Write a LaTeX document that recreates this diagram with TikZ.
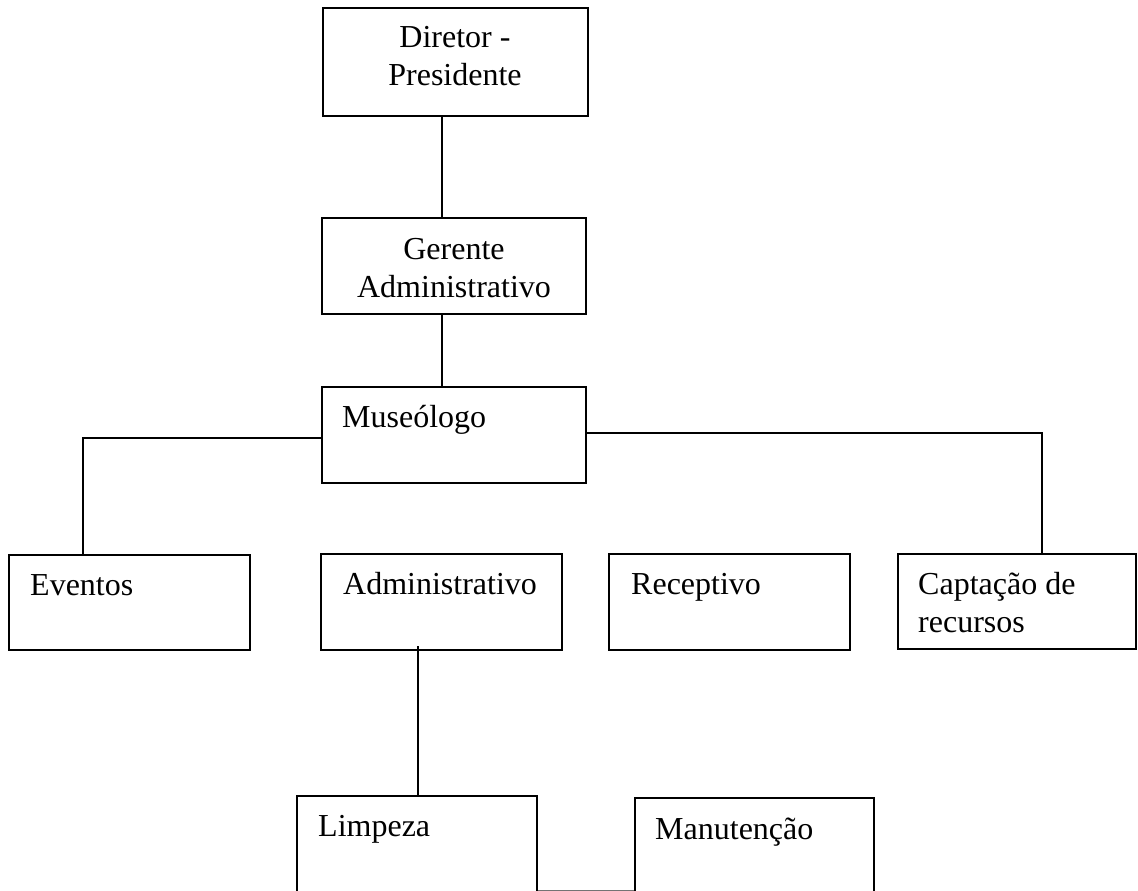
\documentclass[tikz,border=0pt]{standalone}
\usepackage{fontspec}
\setmainfont{Liberation Serif}
\usetikzlibrary{calc}
\begin{document}
\begin{tikzpicture}[x=1pt,y=-1pt,
  box/.style={draw, line width=1.4pt, inner sep=0pt},
  conn/.style={line width=1.4pt},
  txt/.style={inner sep=0pt, font=\fontsize{32}{38}\selectfont}]
\useasboundingbox (0,0) rectangle (1138,891);
\clip (0,0) rectangle (1138,891);
\fill[white] (0,0) rectangle (1138,891);
% boxes
\node[box, minimum width=265pt, minimum height=108pt] (dir) at (455.5,62) {};
\node[box, minimum width=264pt, minimum height=96pt] (ger) at (454,266) {};
\node[box, minimum width=264pt, minimum height=96pt] (mus) at (454,435) {};
\node[box, minimum width=241pt, minimum height=95pt] (eve) at (129.5,602.5) {};
\node[box, minimum width=241pt, minimum height=96pt] (adm) at (441.5,602) {};
\node[box, minimum width=241pt, minimum height=96pt] (rec) at (729.5,602) {};
\node[box, minimum width=238pt, minimum height=95pt] (cap) at (1017,601.5) {};
\node[box, minimum width=240pt, minimum height=110pt] (lim) at (417,851) {};
\node[box, minimum width=239pt, minimum height=110pt] (man) at (754.5,853) {};
% texts (multi-line nodes: base = baseline of last line)
\node[txt, align=center, anchor=base] (dirt) at (455,85) {Diretor -\\Presidente};
\node[txt, align=center, anchor=base] (gert) at (454,297) {Gerente\\Administrativo};
\node[txt, anchor=base west] (must) at (342,427) {Museólogo};
\node[txt, anchor=base west] (evet) at (30,595) {Eventos};
\node[txt, anchor=base west] (admt) at (343,594) {Administrativo};
\node[txt, anchor=base west] (rect) at (631,594) {Receptivo};
\node[txt, align=left, anchor=base west] (capt) at (918,632) {Captação de\\recursos};
\node[txt, anchor=base west] (limt) at (318,836) {Limpeza};
\node[txt, anchor=base west] (mant) at (655,839) {Manutenção};
% connector points
\coordinate (vx) at (442,0);
\coordinate (ej) at (83,438);
\coordinate (cj) at (1042,433);
\coordinate (aj) at (418,646);
% connectors
\draw[conn] (dir.south -| vx) -- (ger.north -| vx);
\draw[conn] (ger.south -| vx) -- (mus.north -| vx);
\draw[conn] ($(mus.west)+(0,3)$) -- (ej) -- (ej |- eve.north);
\draw[conn] ($(mus.east)+(0,-2)$) -- (cj) -- (cj |- cap.north);
\draw[conn] (aj) -- (aj |- lim.north);
\draw[line width=1pt, black!55] ($(lim.east)+(0,39)$) -- ($(man.west)+(0,37)$);
\end{tikzpicture}
\end{document}
